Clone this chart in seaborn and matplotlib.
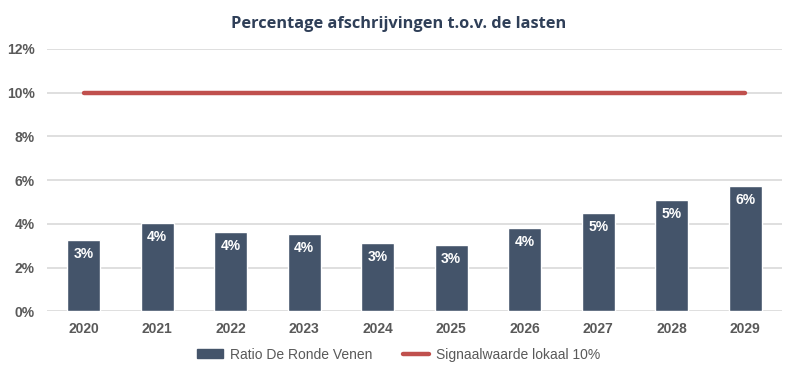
import matplotlib
matplotlib.use("Agg")
import matplotlib.pyplot as plt
import seaborn as sns
import numpy as np
import pandas as pd
from matplotlib.patches import Patch
from matplotlib.lines import Line2D
from matplotlib.ticker import PercentFormatter, MultipleLocator

years = ["2020", "2021", "2022", "2023", "2024", "2025", "2026", "2027", "2028", "2029"]
ratio = [0.0327, 0.0406, 0.0361, 0.0353, 0.0313, 0.0304, 0.0382, 0.0449, 0.0507, 0.0572]
signal = [0.10] * 10
bar_labels = ["3%", "4%", "4%", "4%", "3%", "3%", "4%", "5%", "5%", "6%"]

bar_name = "Ratio De Ronde Venen"
line_name = "Signaalwaarde lokaal 10%"
title = "Percentage afschrijvingen t.o.v. de lasten"

bar_color = "#44546A"
line_color = "#C0504D"
tick_color = "#595959"

sns.set_theme(style="white")
plt.rcParams["font.family"] = ["Liberation Sans", "DejaVu Sans"]

df = pd.DataFrame({"year": years, "ratio": ratio})

fig = plt.figure(figsize=(7.97, 3.74), dpi=100)
ax = fig.add_axes([0.059, 0.1676, 0.922, 0.7014])

sns.barplot(data=df, x="year", y="ratio", color=bar_color, width=0.45,
            saturation=1, ax=ax, zorder=3)
sns.lineplot(x=np.arange(len(years)), y=signal, color=line_color, linewidth=3.2,
             ax=ax, zorder=4, solid_capstyle="round")

for i, (v, lab) in enumerate(zip(ratio, bar_labels)):
    ax.annotate(lab, (i, v), xytext=(0, -14), textcoords="offset pixels",
                ha="center", va="center", color="white", fontsize=10,
                fontweight="bold", zorder=5)

ax.set_ylim(0, 0.12)
ax.set_xlim(-0.5, len(years) - 0.5)
ax.yaxis.set_major_locator(MultipleLocator(0.02))
ax.yaxis.set_major_formatter(PercentFormatter(1.0, decimals=0))
ax.grid(axis="y", color="#D9D9D9", linewidth=1.2, zorder=0)
ax.set_axisbelow(True)
for s in ax.spines.values():
    s.set_visible(False)
ax.set_xlabel("")
ax.set_ylabel("")
ax.tick_params(axis="both", length=0, colors=tick_color, labelsize=10)
ax.tick_params(axis="y", pad=9)
ax.tick_params(axis="x", pad=8)
for t in ax.get_xticklabels() + ax.get_yticklabels():
    t.set_fontweight("bold")

fig.text(0.5, 0.937, title, ha="center", va="center", fontsize=11.8,
         fontweight="bold", color="#2F3F58", family=["Open Sans", "DejaVu Sans"])

handles = [Patch(facecolor=bar_color, edgecolor=bar_color),
           Line2D([0], [0], color=line_color, linewidth=3.2, solid_capstyle="round")]
leg = fig.legend(handles, [bar_name, line_name], loc="center", bbox_to_anchor=(0.5, 0.052),
                 ncol=2, frameon=False, fontsize=10, handlelength=1.9, handleheight=0.6,
                 columnspacing=2.2, handletextpad=0.5)
for t in leg.get_texts():
    t.set_color(tick_color)

fig.savefig("out.png", dpi=100)
